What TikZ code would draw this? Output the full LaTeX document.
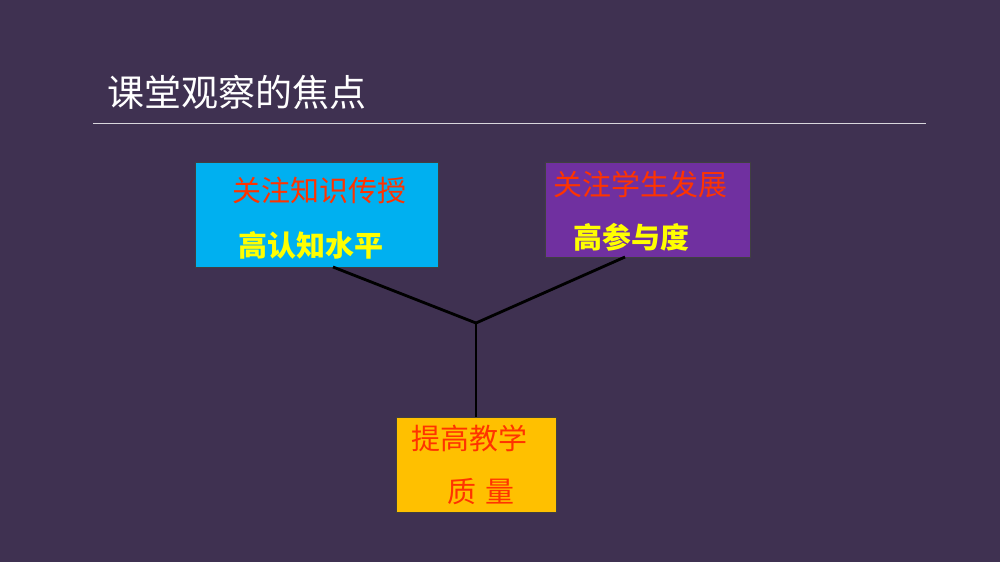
\documentclass[tikz,border=0pt]{standalone}
\usepackage{fontspec}
\setmainfont{Noto Sans CJK SC}
\usetikzlibrary{positioning}
\definecolor{bgpurple}{RGB}{63,49,81}
\definecolor{boxblue}{RGB}{0,176,240}
\definecolor{boxpurple}{RGB}{112,48,160}
\definecolor{boxorange}{RGB}{255,192,0}
\definecolor{txtred}{RGB}{255,51,0}
\definecolor{txtyellow}{RGB}{255,255,0}
\tikzset{
box/.style={rectangle, draw=black!75, line width=0.7pt, inner sep=0pt},
redtext/.style={text=txtred, font=\fontsize{20.6pt}{24pt}\selectfont, inner sep=0pt, anchor=west},
yellowtext/.style={text=txtyellow, font=\fontsize{20.6pt}{24pt}\selectfont\bfseries, inner sep=0pt, anchor=west},
link/.style={line width=2pt, black}
}

\begin{document}
\begin{tikzpicture}[x=0.025cm, y=-0.025cm]
\fill[bgpurple] (0,0) rectangle (1000,562);
\useasboundingbox (0,0) rectangle (1000,562);

\node[text=white, font=\fontsize{26.3pt}{30pt}\selectfont, inner sep=0pt, anchor=west] (title) at (107,92) {课堂观察的焦点};
\draw[white!80!bgpurple, line width=0.7pt] (93,123) -- (926,123);

\node[box, fill=boxblue, minimum width=243*0.025cm, minimum height=105*0.025cm] (blue) at (316.5,214.5) {};
\node[box, fill=boxpurple, minimum width=205*0.025cm, minimum height=95*0.025cm] (purple) at (647.5,209.5) {};
\node[box, fill=boxorange, minimum width=160*0.025cm, minimum height=95*0.025cm] (orange) at (476,464.5) {};

\node[redtext] (t1) at (232,190) {关注知识传授};
\node[yellowtext] (t2) at (238,245) {高认知水平};
\node[redtext] (t3) at (553,184) {关注学生发展};
\node[yellowtext] (t4) at (573,237) {高参与度};
\node[redtext] (t5) at (411,438) {提高教学};
\node[redtext] (t6) at (447,492) {质\,\,量};

\coordinate (blueend) at (333,267);
\coordinate (purpleend) at (625,257);
\coordinate (joint) at (476,323);

\draw[link] (blueend) -- (joint);
\draw[link] (purpleend) -- (joint);
\draw[link] (joint) -- (orange.north);
\end{tikzpicture}
\end{document}
